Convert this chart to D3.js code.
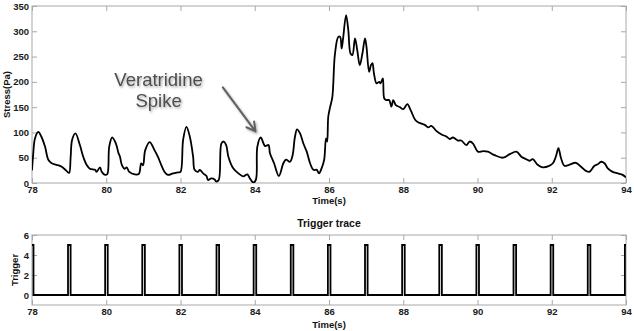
<!DOCTYPE html>
<html>
<head>
<meta charset="utf-8">
<script src="https://cdn.jsdelivr.net/npm/d3@7"></script>
<style>
  body { margin: 0; background: #fff; }
  svg { display: block; }
</style>
</head>
<body>
<svg id="chart" width="634" height="331"></svg>
<script>
// stress trace
const stressTime = [
  78.00, 78.03, 78.08, 78.17, 78.25, 78.35, 78.44, 78.53, 78.66, 78.80, 78.93,
  79.00, 79.04, 79.08, 79.17, 79.29, 79.38, 79.47, 79.56, 79.70, 79.74, 79.83, 79.88, 79.97,
  80.03, 80.08, 80.16, 80.26, 80.33, 80.37, 80.42, 80.50, 80.55, 80.62, 80.77, 80.88, 80.94, 80.99,
  81.05, 81.17, 81.30, 81.39, 81.48, 81.57, 81.66, 81.80, 81.93,
  82.00, 82.07, 82.16, 82.25, 82.34, 82.38, 82.47, 82.52, 82.61, 82.70, 82.74, 82.83, 82.92, 82.96,
  83.03, 83.10, 83.16, 83.23, 83.29, 83.42, 83.56, 83.69, 83.80, 83.87, 83.96,
  84.03, 84.07, 84.16, 84.28, 84.37, 84.41, 84.52, 84.65, 84.77, 84.84, 84.95,
  85.02, 85.08, 85.14, 85.22, 85.31, 85.40, 85.49, 85.58, 85.67, 85.73, 85.80, 85.87, 85.92, 85.95,
  85.98, 86.03, 86.09, 86.16, 86.25, 86.30, 86.34, 86.38, 86.46, 86.52, 86.58, 86.63, 86.70, 86.76, 86.83, 86.90, 86.97,
  87.01, 87.08, 87.13, 87.17, 87.21, 87.28, 87.35, 87.39, 87.45, 87.49, 87.55, 87.62, 87.68, 87.73, 87.80, 87.91,
  88.00, 88.11, 88.20, 88.32, 88.40, 88.58, 88.67, 88.76, 88.89,
  89.03, 89.16, 89.25, 89.34, 89.47, 89.56, 89.70, 89.79, 89.88,
  90.01, 90.15, 90.28, 90.46, 90.69, 90.87,
  91.05, 91.18, 91.31, 91.40, 91.49, 91.62, 91.76, 91.93,
  92.03, 92.11, 92.18, 92.25, 92.34, 92.47, 92.65, 92.79, 92.92,
  93.01, 93.15, 93.24, 93.33, 93.42, 93.51, 93.64, 93.78, 93.91, 94.00
]
const stressValue = [
  25, 55, 88, 101, 92, 72, 46, 39, 36, 32, 24,
  20, 50, 85, 98, 75, 52, 36, 28, 26, 22, 31, 22, 16,
  18, 72, 90, 78, 59, 52, 36, 28, 31, 22, 17, 18, 39, 35,
  65, 81, 65, 52, 36, 22, 16, 19, 21,
  22, 85, 111, 92, 52, 26, 22, 26, 19, 14, 6, 9, 7, 3,
  6, 78, 82, 75, 52, 29, 19, 13, 17, 9, 1,
  6, 72, 90, 73, 75, 59, 39, 14, 39, 46, 42,
  55, 90, 106, 98, 78, 62, 39, 26, 26, 19, 29, 46, 88, 82,
  131, 150, 170, 255, 289, 289, 266, 286, 332, 302, 256, 253, 286, 263, 233, 256, 286,
  269, 220, 233, 237, 217, 197, 200, 197, 207, 167, 164, 164, 151, 164, 154, 150,
  146, 156, 144, 125, 120, 115, 110, 113, 103,
  96, 92, 87, 90, 84, 84, 75, 82, 78,
  62, 63, 62, 55, 50, 57,
  62, 52, 47, 44, 47, 36, 31, 34,
  39, 52, 69, 49, 34, 36, 40, 32, 24,
  22, 34, 37, 42, 39, 29, 22, 19, 16, 11
]

// trigger pulses, one per second, 5 V high
const triggerTime = [78, 79, 80, 81, 82, 83, 84, 85, 86, 87, 88, 89, 90, 91, 92, 93, 94]
const triggerLevel = [5, 5, 5, 5, 5, 5, 5, 5, 5, 5, 5, 5, 5, 5, 5, 5, 5]

// ticks
const timeTicks = [78, 80, 82, 84, 86, 88, 90, 92, 94]
const stressTicks = [0, 50, 100, 150, 200, 250, 300, 350]
const triggerTicks = [0, 2, 4, 6]

const width = 634
const height = 331
const left = 32
const right = 626
const font = 'Liberation Sans, Arial, Helvetica, sans-serif'
const frameColor = '#a8a8a8'

const svg = d3.select('#chart')

svg.append('rect').attr('width', width).attr('height', height).attr('fill', '#fff')

const defs = svg.append('defs')
defs.append('filter')
  .attr('id', 'shadow')
  .attr('x', '-20%').attr('y', '-20%').attr('width', '140%').attr('height', '140%')
  .append('feDropShadow')
  .attr('dx', 1.2).attr('dy', 1.5).attr('stdDeviation', 1.2)
  .attr('flood-color', '#000').attr('flood-opacity', 0.35)

// shared panel drawing: frame, inward ticks on all four sides, labels
function panel(id, x, y, xTickVals, yTickVals) {
  const g = svg.append('g').attr('id', id)
  const [x0, x1] = x.range()
  const [y0, y1] = y.range()

  defs.append('clipPath').attr('id', id + '-clip')
    .append('rect')
    .attr('x', x0).attr('y', y1)
    .attr('width', x1 - x0).attr('height', y0 - y1)

  const style = (a) => a
    .call((s) => s.select('.domain').remove())
    .call((s) => s.selectAll('.tick line').attr('stroke', frameColor))
    .call((s) => s.selectAll('.tick text')
      .attr('font-family', font)
      .attr('font-size', 9.5)
      .attr('font-weight', 'bold')
      .attr('fill', '#1a1a1a'))

  const fmt = d3.format('d')

  g.append('g').attr('transform', `translate(0,${y0})`)
    .call(d3.axisBottom(x).tickValues(xTickVals).tickFormat(fmt).tickSize(-5).tickPadding(3.5))
    .call(style)
  g.append('g').attr('transform', `translate(0,${y1})`)
    .call(d3.axisTop(x).tickValues(xTickVals).tickSize(-5).tickFormat(''))
    .call(style)
  g.append('g').attr('transform', `translate(${x0},0)`)
    .call(d3.axisLeft(y).tickValues(yTickVals).tickFormat(fmt).tickSize(-5).tickPadding(3))
    .call(style)
  g.append('g').attr('transform', `translate(${x1},0)`)
    .call(d3.axisRight(y).tickValues(yTickVals).tickSize(-5).tickFormat(''))
    .call(style)

  g.append('rect')
    .attr('x', x0).attr('y', y1)
    .attr('width', x1 - x0).attr('height', y0 - y1)
    .attr('fill', 'none')
    .attr('stroke', frameColor)
    .attr('stroke-width', 1)

  return g
}

function label(text, x, y, opts = {}) {
  return svg.append('text')
    .attr('x', x).attr('y', y)
    .attr('transform', opts.rotate ? `rotate(-90,${x},${y})` : null)
    .attr('text-anchor', 'middle')
    .attr('font-family', font)
    .attr('font-size', opts.size || 9.5)
    .attr('font-weight', 'bold')
    .attr('fill', '#111')
    .text(text)
}

// ---- stress panel
const xTop = d3.scaleLinear().domain([78, 94]).range([left, right])
const yStress = d3.scaleLinear().domain([0, 350]).range([183, 6])

const stressPanel = panel('stress', xTop, yStress, timeTicks, stressTicks)

const stressData = stressTime.map((t, i) => ({ t, v: stressValue[i] }))

stressPanel.append('path')
  .datum(stressData)
  .attr('clip-path', 'url(#stress-clip)')
  .attr('fill', 'none')
  .attr('stroke', '#000')
  .attr('stroke-width', 1.8)
  .attr('stroke-linejoin', 'round')
  .attr('d', d3.line()
    .x((d) => xTop(d.t))
    .y((d) => yStress(d.v))
    .curve(d3.curveCatmullRom.alpha(0.5)))

label('Time(s)', (left + right) / 2, 204)
label('Stress(Pa)', 10, (183 + 6) / 2, { rotate: true })

// annotation
const note = svg.append('g').attr('id', 'annotation').attr('filter', 'url(#shadow)')
const noteX = xTop(81.41)
note.selectAll('text')
  .data(['Veratridine', 'Spike'])
  .join('text')
  .attr('x', noteX)
  .attr('y', (d, i) => yStress(192) + i * 21.5)
  .attr('text-anchor', 'middle')
  .attr('font-family', font)
  .attr('font-size', 18.5)
  .attr('fill', '#4d4d4d')
  .text((d) => d)

const a0 = [xTop(83.14), yStress(189)]
const a1 = [xTop(84.02), yStress(102)]
const ang = Math.atan2(a1[1] - a0[1], a1[0] - a0[0])
const head = 10
note.append('path')
  .attr('fill', 'none')
  .attr('stroke', '#606060')
  .attr('stroke-width', 2)
  .attr('stroke-linecap', 'round')
  .attr('stroke-linejoin', 'round')
  .attr('d', d3.line()([a0, a1]) + ' ' + d3.line()([
    [a1[0] - head * Math.cos(ang - 0.5), a1[1] - head * Math.sin(ang - 0.5)],
    a1,
    [a1[0] - head * Math.cos(ang + 0.5), a1[1] - head * Math.sin(ang + 0.5)],
  ]))

// ---- trigger panel
const xBottom = d3.scaleLinear().domain([78, 94]).range([left, right])
const yTrigger = d3.scaleLinear().domain([-1, 6]).range([305, 235])

const triggerPanel = panel('trigger', xBottom, yTrigger, timeTicks, triggerTicks)

const pulseStart = -0.03
const pulseEnd = 0.04
const triggerData = [[77.9, 0]]
triggerTime.forEach((t, i) => {
  triggerData.push([t + pulseStart, 0], [t + pulseStart, triggerLevel[i]],
    [t + pulseEnd, triggerLevel[i]], [t + pulseEnd, 0])
})
triggerData.push([94.1, 0])

triggerPanel.append('path')
  .datum(triggerData)
  .attr('clip-path', 'url(#trigger-clip)')
  .attr('fill', 'none')
  .attr('stroke', '#000')
  .attr('stroke-width', 1.8)
  .attr('d', d3.line()
    .x((d) => xBottom(d[0]))
    .y((d) => yTrigger(d[1])))

label('Trigger trace', (left + right) / 2, 227, { size: 10.5 })
label('Time(s)', (left + right) / 2, 327.5)
label('Trigger', 18, 270, { rotate: true })
</script>
</body>
</html>
